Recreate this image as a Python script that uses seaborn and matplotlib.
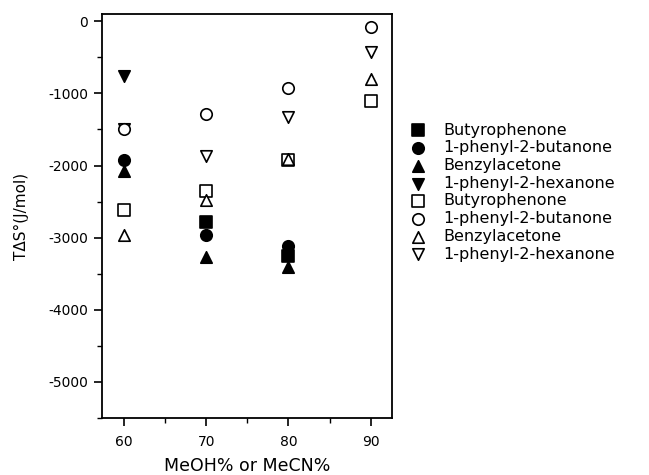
import matplotlib
matplotlib.use('Agg')
import matplotlib.pyplot as plt
from matplotlib.ticker import MultipleLocator
import seaborn as sns
import pandas as pd

# --- data ---
X_FILLED = [60, 70, 80]
X_OPEN = [60, 70, 80, 90]

butyro_filled = [None, -2780, -3250]
butanone_filled = [-1920, -2960, -3110]
benzyl_filled = [-2080, -3270, -3410]
hexanone_filled = [-760, None, None]

butyro_open = [-2610, -2350, -1920, -1100]
butanone_open = [-1490, -1280, -930, -80]
benzyl_open = [-2970, -2480, -1910, -800]
hexanone_open = [-1490, -1870, -1330, -420]

# name, x, y, marker, face colour, zorder
SERIES = [
    ('Butyrophenone', X_FILLED, butyro_filled, 's', 'black', 3),
    ('1-phenyl-2-butanone', X_FILLED, butanone_filled, 'o', 'black', 3),
    ('Benzylacetone', X_FILLED, benzyl_filled, '^', 'black', 3),
    ('1-phenyl-2-hexanone', X_FILLED, hexanone_filled, 'v', 'black', 3),
    ('Butyrophenone', X_OPEN, butyro_open, 's', 'white', 3),
    ('1-phenyl-2-butanone', X_OPEN, butanone_open, 'o', 'white', 4),
    ('Benzylacetone', X_OPEN, benzyl_open, '^', 'white', 3.5),
    ('1-phenyl-2-hexanone', X_OPEN, hexanone_open, 'v', 'white', 3),
]

sns.set_style('ticks')
plt.rcParams['font.family'] = ['DejaVu Sans']
plt.rcParams['text.color'] = 'black'
plt.rcParams['axes.labelcolor'] = 'black'

fig = plt.figure(figsize=(6.49, 4.75), dpi=100)
ax = fig.add_axes([0.157, 0.12, 0.447, 0.8505])

for name, xs, ys, marker, face, z in SERIES:
    df = pd.DataFrame({'x': xs, 'y': ys}).dropna()
    sns.scatterplot(data=df, x='x', y='y', marker=marker, s=68,
                    facecolor=face, edgecolor='black', linewidth=1.2,
                    label=name, ax=ax, zorder=z)

ax.set_xlim(57.3, 92.6)
ax.set_ylim(-5500, 100)
ax.set_xticks([60, 70, 80, 90])
ax.xaxis.set_minor_locator(MultipleLocator(5))
ax.set_yticks([-5000, -4000, -3000, -2000, -1000, 0])
ax.yaxis.set_minor_locator(MultipleLocator(500))
ax.set_yticklabels(['-5000', '-4000', '-3000', '-2000', '-1000', '0'])

for side in ['left', 'right', 'top', 'bottom']:
    ax.spines[side].set_visible(True)
    ax.spines[side].set_linewidth(1.3)
    ax.spines[side].set_color('black')
ax.tick_params(which='major', direction='out', length=6, width=1.2, labelsize=10,
               colors='black', labelcolor='black')
ax.tick_params(which='minor', direction='out', length=3.5, width=1.0, colors='black')
ax.tick_params(axis='x', which='major', pad=6)
ax.tick_params(axis='y', which='major', pad=4)
ax.tick_params(axis='both', which='both', top=False, right=False)

ax.set_xlabel('MeOH% or MeCN%', fontsize=12.5, labelpad=6, color='black')
ax.set_ylabel('TΔS°(J/mol)', fontsize=11, labelpad=14, color='black')

leg = ax.legend(loc='upper left', bbox_to_anchor=(0.632, 0.742), bbox_transform=fig.transFigure,
                frameon=False, fontsize=11.5, handletextpad=1.1, labelspacing=0.17,
                handlelength=0.95, borderaxespad=0, borderpad=0)
for t in leg.get_texts():
    t.set_color('black')

fig.savefig('out.png', dpi=100)
